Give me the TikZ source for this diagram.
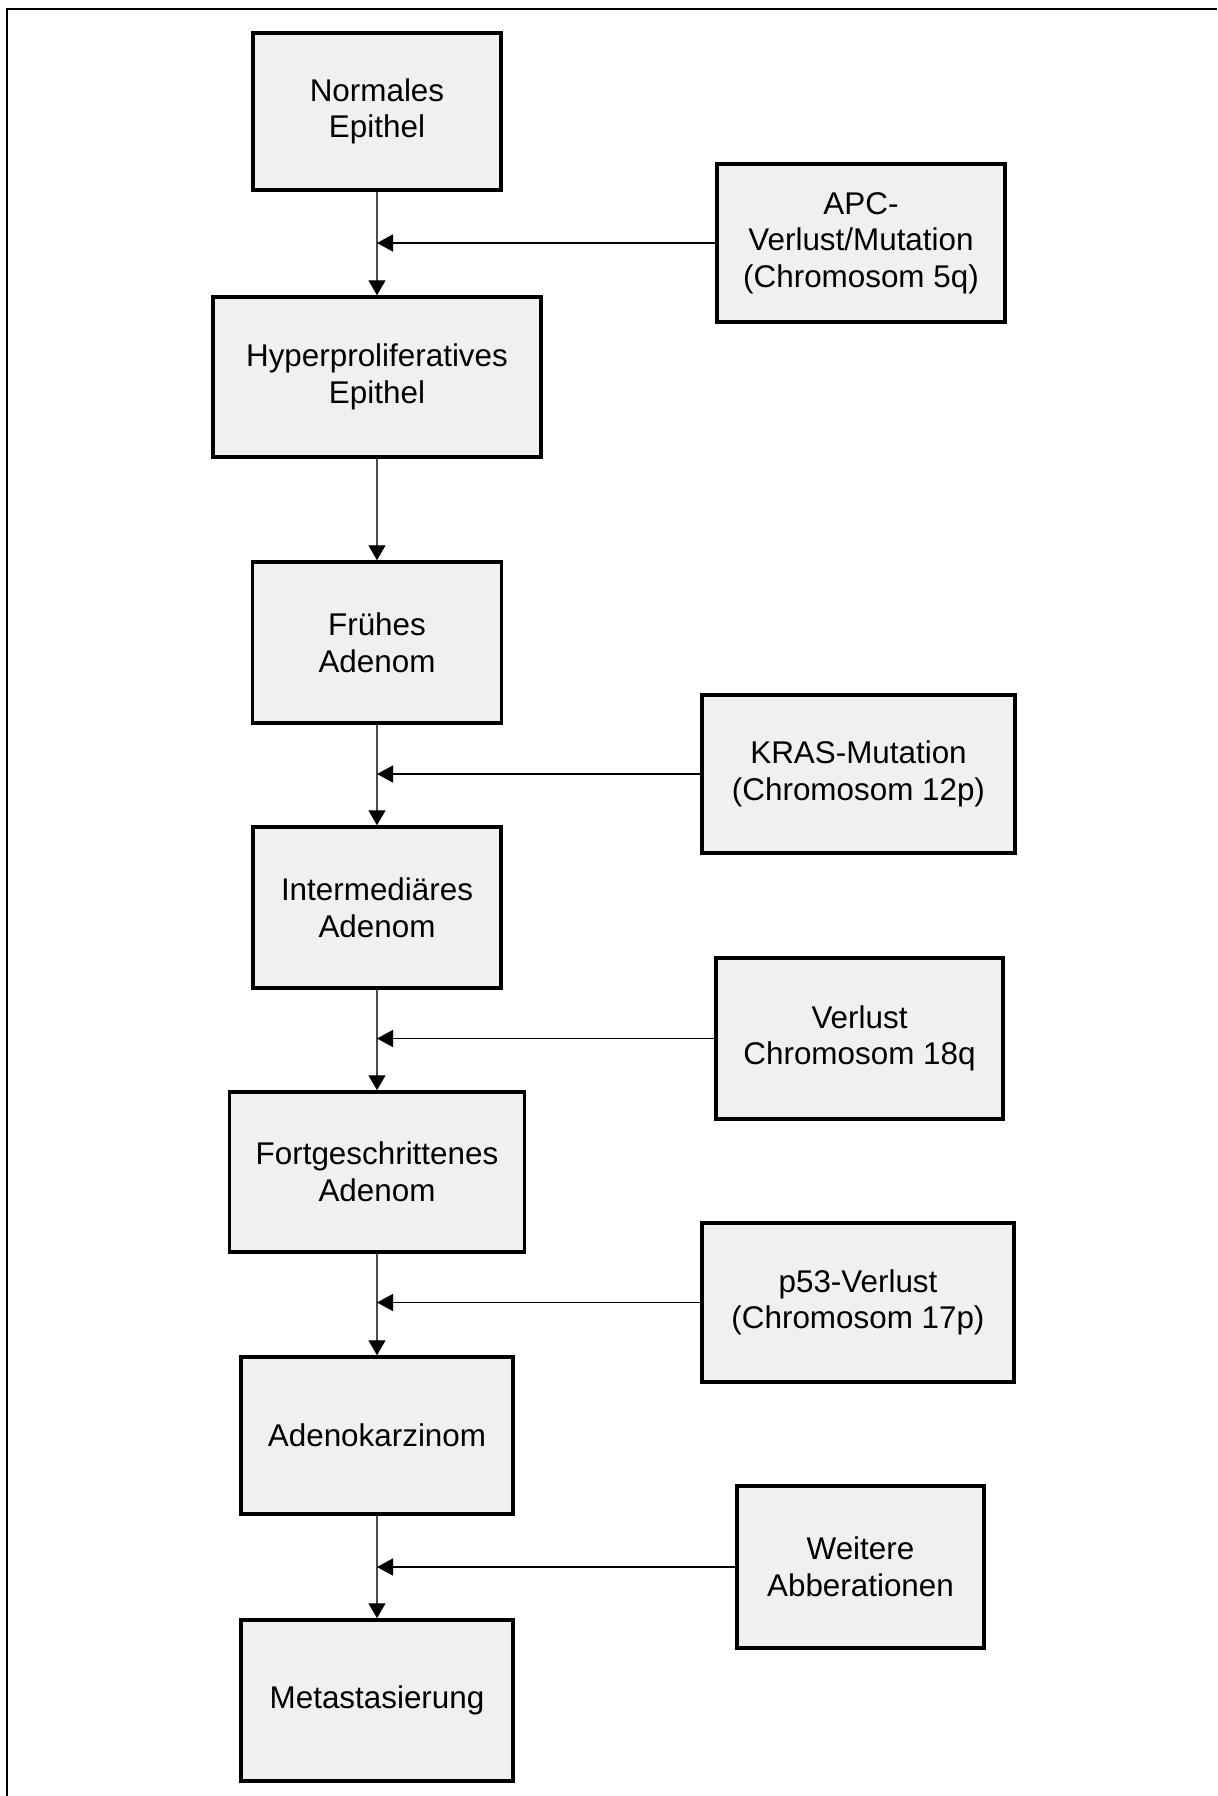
\documentclass[tikz,border=0pt]{standalone}
\usepackage{fontspec}
\setmainfont{Liberation Sans}
\usetikzlibrary{arrows.meta}

\definecolor{boxfill}{HTML}{F0F0F0}
\definecolor{flowline}{HTML}{4A4A4A}

\tikzset{
  stage/.style={draw=black, line width=1.75pt, fill=boxfill, rectangle,
    inner sep=0pt, align=center, text=black,
    font=\fontsize{15.7pt}{18.3pt}\selectfont},
  flowarrow/.style={draw=flowline, line width=0.65pt,
    -{Triangle[length=7.5pt,width=8.5pt,color=black]}},
  sidearrow/.style={draw=black, line width=0.85pt,
    -{Triangle[length=8pt,width=8.5pt]}},
  framestyle/.style={draw=black, line width=1pt}
}

\begin{document}
\begin{tikzpicture}[x=0.5pt, y=-0.5pt]
  \useasboundingbox (0,0) rectangle (1217,1796);

  % outer frame (only its top and left edges fall inside the page)
  \draw[framestyle] (7,1796) -- (7,9.3) -- (1217,9.3);

  % main sequence of stages
  \node[stage, minimum width=124pt, minimum height=78.5pt] (n1) at (377,111.5) {Normales\\Epithel};
  \node[stage, minimum width=164pt, minimum height=80pt]   (n2) at (377,377)   {Hyperproliferatives\\Epithel};
  \node[stage, minimum width=124.5pt, minimum height=80.5pt] (n3) at (377,642.5) {Frühes\\Adenom};
  \node[stage, minimum width=124pt, minimum height=80.5pt] (n4) at (377,907.5) {Intermediäres\\Adenom};
  \node[stage, minimum width=147.5pt, minimum height=80pt] (n5) at (377,1172)  {Fortgeschrittenes\\Adenom};
  \node[stage, minimum width=136pt, minimum height=78.5pt] (n6) at (377,1435.5) {Adenokarzinom};
  \node[stage, minimum width=136pt, minimum height=80.5pt] (n7) at (377,1700.5) {Metastasierung};

  % genetic events
  \node[stage, minimum width=144pt, minimum height=79pt]   (s1) at (861,243)    {APC-\\Verlust/Mutation\\(Chromosom 5q)};
  \node[stage, minimum width=156.5pt, minimum height=79pt] (s2) at (858.5,774)  {KRAS-Mutation\\(Chromosom 12p)};
  \node[stage, minimum width=143.5pt, minimum height=80.5pt] (s3) at (859.5,1038.5) {Verlust\\Chromosom 18q};
  \node[stage, minimum width=156pt, minimum height=79.5pt] (s4) at (858,1302.5) {p53-Verlust\\(Chromosom 17p)};
  \node[stage, minimum width=123.5pt, minimum height=81pt] (s5) at (860.5,1567) {Weitere\\Abberationen};

  % junctions on the main flow line
  \coordinate (j1) at (n1.south |- s1.west);
  \coordinate (j2) at (n3.south |- s2.west);
  \coordinate (j3) at (n4.south |- s3.west);
  \coordinate (j4) at (n5.south |- s4.west);
  \coordinate (j5) at (n6.south |- s5.west);

  % progression arrows
  \draw[flowarrow] (n1.south) -- (n2.north);
  \draw[flowarrow] (n2.south) -- (n3.north);
  \draw[flowarrow] (n3.south) -- (n4.north);
  \draw[flowarrow] (n4.south) -- (n5.north);
  \draw[flowarrow] (n5.south) -- (n6.north);
  \draw[flowarrow] (n6.south) -- (n7.north);

  % events feeding into the flow
  \draw[sidearrow] (s1.west) -- (j1);
  \draw[sidearrow] (s2.west) -- (j2);
  \draw[sidearrow] (s3.west) -- (j3);
  \draw[sidearrow] (s4.west) -- (j4);
  \draw[sidearrow] (s5.west) -- (j5);
\end{tikzpicture}
\end{document}
